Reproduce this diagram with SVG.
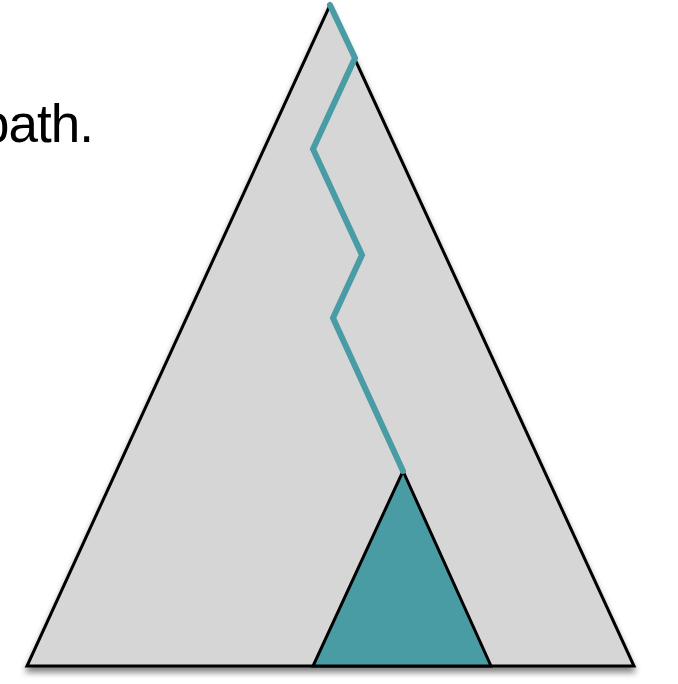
<svg xmlns="http://www.w3.org/2000/svg" width="678" height="684" viewBox="0 0 678 684">
<defs>
<style>
.lbl{font-family:"Liberation Sans",Arial,sans-serif;font-size:53px;fill:#000}
.tri{stroke:#000;stroke-width:3;stroke-linejoin:miter}
</style>
<filter id="sh" x="-10%" y="-10%" width="120%" height="130%">
<feGaussianBlur in="SourceAlpha" stdDeviation="3"/>
<feOffset dx="0" dy="5"/>
<feComponentTransfer><feFuncA type="linear" slope="0.5"/></feComponentTransfer>
<feMerge><feMergeNode/><feMergeNode in="SourceGraphic"/></feMerge>
</filter>
</defs>
<rect width="678" height="684" fill="#fff"/>
<text class="lbl" x="-20" y="142" textLength="114" lengthAdjust="spacing">path.</text>
<g id="tree" filter="url(#sh)">
<polygon class="tri" points="330,5 634,666 27,666" fill="#d6d6d6"/>
</g>
<g id="subtree">
<polygon class="tri" points="403,471 491,666 313,666" fill="#4a9ca4"/>
</g>
<g id="connectors">
<polyline points="330,5 355,58 313,149 362,255 333,318 403,471" fill="none" stroke="#4a9ca4" stroke-width="6" stroke-linecap="round" stroke-linejoin="miter"/>
</g>
</svg>
